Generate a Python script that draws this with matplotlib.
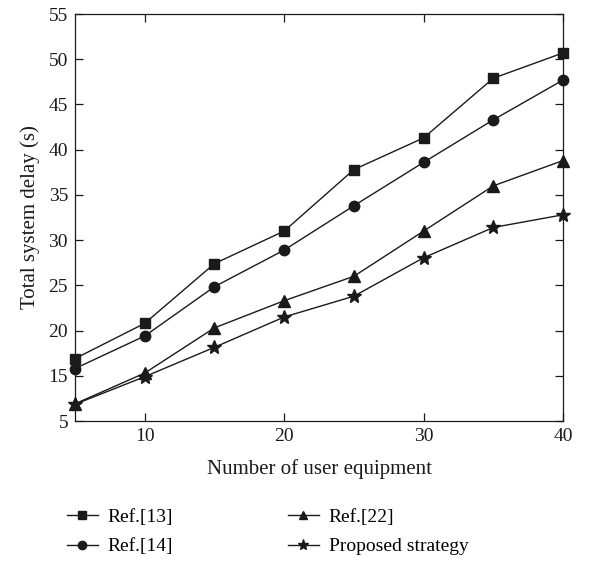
import matplotlib
matplotlib.use("Agg")
import matplotlib.pyplot as plt

plt.rcParams['font.family'] = ['Liberation Serif', 'DejaVu Serif']

users = [5, 10, 15, 20, 25, 30, 35, 40]
ref13 = [16.9, 20.8, 27.4, 31.0, 37.8, 41.3, 47.9, 50.7]
ref14 = [15.8, 19.4, 24.85, 28.9, 33.8, 38.6, 43.3, 47.7]
ref22 = [11.9, 15.3, 20.3, 23.3, 26.0, 31.0, 36.0, 38.8]
proposed = [11.85, 14.9, 18.15, 21.5, 23.8, 28.05, 31.4, 32.8]

ytick_pos = [10, 15, 20, 25, 30, 35, 40, 45, 50, 55]
ytick_labels = ['5', '15', '20', '25', '30', '35', '40', '45', '50', '55']
xtick_pos = [10, 20, 30, 40]
xtick_labels = ['10', '20', '30', '40']

fig = plt.figure(figsize=(6.01, 5.63), dpi=100)
ax = fig.add_axes([0.1248, 0.2522, 0.812, 0.7229])

series = [
    ('Ref.[13]', ref13, 's', 7),
    ('Ref.[14]', ref14, 'o', 7.5),
    ('Ref.[22]', ref22, '^', 8),
    ('Proposed strategy', proposed, '*', 10),
]
for label, vals, m, ms in series:
    ax.plot(users, vals, color='#1a1a1a', lw=1.0, marker=m, markersize=ms,
            markerfacecolor='#1a1a1a', markeredgecolor='#1a1a1a', label=label,
            clip_on=False, zorder=3)

ax.set_xlim(5, 40)
ax.set_ylim(10, 55)
ax.set_xticks(xtick_pos)
ax.set_xticklabels(xtick_labels)
ax.set_yticks(ytick_pos)
ax.set_yticklabels(ytick_labels)
ax.tick_params(direction='in', top=True, right=True, length=5.5, width=0.9,
               labelsize=14, colors='#1a1a1a', pad=5)
for s in ax.spines.values():
    s.set_linewidth(0.9)
    s.set_color('#1a1a1a')

ax.set_xlabel('Number of user equipment', fontsize=15, color='#1a1a1a', labelpad=10)
ax.set_ylabel('Total system delay (s)', fontsize=15, color='#1a1a1a', labelpad=6)

handles, labels = ax.get_legend_handles_labels()
fig.legend(handles, labels, ncol=2, loc='upper left', bbox_to_anchor=(0.082, 0.128),
           frameon=False, fontsize=14, handlelength=1.6, handletextpad=0.5,
           columnspacing=5.9, labelspacing=0.6, markerscale=0.8)

fig.savefig('out.png', dpi=100)
